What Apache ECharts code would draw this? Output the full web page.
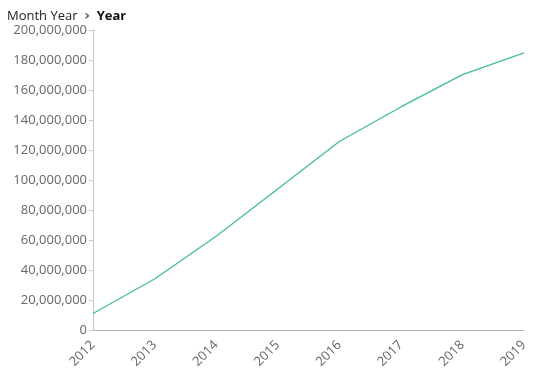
<!DOCTYPE html>
<html>
<head>
<meta charset="utf-8">
<script src="https://cdn.jsdelivr.net/npm/echarts@6/dist/echarts.min.js"></script>
<style>html,body{margin:0;padding:0;background:#fff}#c{width:542px;height:387px}</style>
</head>
<body>
<div id="c"></div>
<script>
const years = ['2012','2013','2014','2015','2016','2017','2018','2019'];
const values = [11000000, 34000000, 62500000, 94000000, 125700000, 148700000, 170300000, 184800000];
const yTicks = { min: 0, max: 200000000, interval: 20000000 };

const chart = echarts.init(document.getElementById('c'));
chart.setOption({
  animation: false,
  textStyle: { fontFamily: 'Open Sans' },
  graphic: [{
    type: 'text', left: 7, top: 9,
    style: {
      text: '{a|Month Year}  {b|›}  {c|Year}',
      rich: {
        a: { fontFamily: 'Open Sans', fontSize: 13, fill: '#222' },
        b: { fontFamily: 'DejaVu Sans', fontSize: 14, fontWeight: 'bold', fill: '#555' },
        c: { fontFamily: 'Open Sans', fontSize: 13, fontWeight: 'bold', fill: '#111' }
      }
    }
  }],
  grid: { left: 93, right: 18, top: 30, bottom: 57 },
  xAxis: {
    type: 'category', data: years, boundaryGap: false,
    axisLine: { lineStyle: { color: '#b3b3b3' } },
    axisTick: { show: false },
    axisLabel: { rotate: 45, color: '#666', fontSize: 13, fontFamily: 'Open Sans', margin: 13 }
  },
  yAxis: {
    type: 'value', min: yTicks.min, max: yTicks.max, interval: yTicks.interval,
    axisLine: { show: true, lineStyle: { color: '#c8c8c8' } },
    axisTick: { show: true, length: 4, lineStyle: { color: '#c8c8c8' } },
    splitLine: { show: false },
    axisLabel: {
      color: '#666', fontSize: 13, fontFamily: 'Open Sans', margin: 6,
      formatter: v => v.toLocaleString('en-US')
    }
  },
  series: [{
    type: 'line', data: values, showSymbol: false,
    lineStyle: { color: '#45bb9f', width: 1.3 }
  }]
});
</script>
</body>
</html>
